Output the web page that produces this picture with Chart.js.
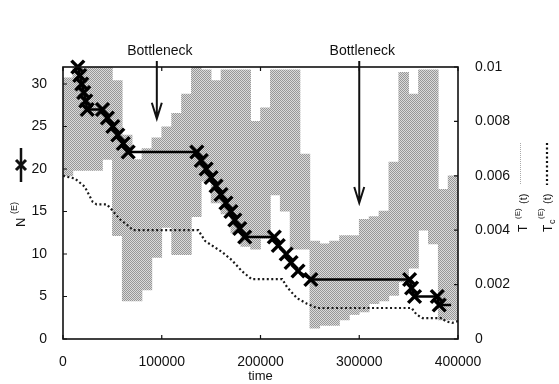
<!DOCTYPE html>
<html>
<head>
<meta charset="utf-8">
<script src="https://cdn.jsdelivr.net/npm/chart.js@4.4.0/dist/chart.umd.min.js"></script>
<style>
  html, body { margin: 0; padding: 0; background: #fff; }
  #wrap { width: 559px; height: 384px; }
</style>
</head>
<body>
<div id="wrap"><canvas id="chart" width="559" height="384"></canvas></div>
<script>
// N^(E)(t) - one point per marker (plateaus have a point at both ends)
const nTime  = [15000, 17000, 19000, 21000, 23000, 24500,
                40000, 45000, 50500, 55500, 61000, 66000,
                135500, 140000, 145000, 150000, 155000, 160000, 165000, 170000, 174000, 179000, 184000,
                214000, 218000, 226000, 231000, 238000, 251000,
                351000, 353000, 356000, 379000, 381000, 393000];
const nValue = [32, 31, 30, 29, 28, 27,
                27, 26, 25, 24, 23, 22,
                22, 21, 20, 19, 18, 17, 16, 15, 14, 13, 12,
                12, 11, 10, 9, 8, 7,
                7, 6, 5, 5, 4, 4];

// T_c^(E)(t) - dotted curve, right axis
const tcTime  = [0, 12000, 22000, 30000, 34000, 44500, 50600, 57700, 64800, 71000,
                 137000, 144000, 161000, 171000, 181000, 191000, 222000, 227000, 237000, 247000,
                 257000, 353000, 358000, 364000, 384000, 387000, 394000, 400000];
const tcValue = [0.0060, 0.0059, 0.0056, 0.00505, 0.00495, 0.00495, 0.0047, 0.0044, 0.0042, 0.0040,
                 0.0040, 0.0036, 0.0032, 0.0029, 0.0025, 0.0022, 0.0022, 0.0019, 0.0015, 0.0013,
                 0.00114, 0.00114, 0.0009, 0.00077, 0.00077, 0.00066, 0.00059, 0.00066];

// T^(E)(t) - fluctuating grey band, low/high per 10000-wide time bin
const binCenter = [5000, 15000, 25000, 35000, 45000, 55000, 65000, 75000, 85000, 95000,
                   105000, 115000, 125000, 135000, 145000, 155000, 165000, 175000, 185000, 195000,
                   205000, 215000, 225000, 235000, 245000, 255000, 265000, 275000, 285000, 295000,
                   305000, 315000, 325000, 335000, 345000, 355000, 365000, 375000, 385000, 395000];
const tLow  = [0.0060, 0.0062, 0.0062, 0.0062, 0.0066, 0.0038, 0.0014, 0.0014, 0.0018, 0.0030,
               0.0041, 0.0031, 0.0031, 0.0045, 0.0058, 0.0050, 0.0046, 0.0039, 0.0034, 0.0033,
               0.0037, 0.0053, 0.0047, 0.0033, 0.0033, 0.0004, 0.0005, 0.0005, 0.0007, 0.0009,
               0.0010, 0.0013, 0.0014, 0.0016, 0.0021, 0.0026, 0.0040, 0.0035, 0.0007, 0.0007];
const tHigh = [0.0096, 0.0100, 0.0100, 0.0100, 0.0100, 0.0095, 0.0075, 0.0066, 0.0070, 0.0074,
               0.0078, 0.0083, 0.0090, 0.0100, 0.0099, 0.0095, 0.0099, 0.0099, 0.0099, 0.0080,
               0.0085, 0.0099, 0.0099, 0.0099, 0.0068, 0.0036, 0.0035, 0.0036, 0.0038, 0.0038,
               0.0044, 0.0045, 0.0047, 0.0065, 0.0098, 0.0090, 0.0099, 0.0099, 0.0055, 0.0060];

const xTicks = [0, 100000, 200000, 300000, 400000];
const nTicks = [0, 5, 10, 15, 20, 25, 30];
const tTicks = [0, 0.002, 0.004, 0.006, 0.008, 0.01];
const tTickLabels = ['0', '0.002', '0.004', '0.006', '0.008', '0.01'];

// arrows: time position, tip value (right axis)
const bottleneckTime = [95000, 300000];
const bottleneckTip  = [0.0081, 0.0050];

const FONT = "'Liberation Sans', Arial, sans-serif";
const canvas = document.getElementById('chart');
const ctx0 = canvas.getContext('2d');

// grey halftone like the printed figure
function halftone() {
  const c = document.createElement('canvas');
  c.width = 2; c.height = 2;
  const g = c.getContext('2d');
  g.fillStyle = '#dadada'; g.fillRect(0, 0, 2, 2);
  g.fillStyle = '#979797'; g.fillRect(0, 0, 1, 1); g.fillRect(1, 1, 1, 1);
  return ctx0.createPattern(c, 'repeat');
}

function drawArrow(ctx, x, y0, y1) {
  ctx.beginPath();
  ctx.moveTo(x, y0); ctx.lineTo(x, y1);
  ctx.moveTo(x - 5, y1 - 16); ctx.lineTo(x, y1); ctx.lineTo(x + 5, y1 - 16);
  ctx.stroke();
}

const decor = {
  id: 'decor',
  afterDraw(chart) {
    const { ctx, chartArea: a, scales } = chart;
    const xs = scales.x, ys = scales.y, ts = scales.y2;
    ctx.save();
    ctx.strokeStyle = '#111';
    ctx.fillStyle = '#111';

    // frame
    ctx.lineWidth = 1.6;
    ctx.strokeRect(a.left, a.top, a.right - a.left, a.bottom - a.top);

    // inward ticks
    ctx.lineWidth = 1.2;
    ctx.beginPath();
    xTicks.forEach(v => {
      const px = xs.getPixelForValue(v);
      ctx.moveTo(px, a.bottom); ctx.lineTo(px, a.bottom - 4);
      ctx.moveTo(px, a.top); ctx.lineTo(px, a.top + 4);
    });
    nTicks.forEach(v => {
      const py = ys.getPixelForValue(v);
      ctx.moveTo(a.left, py); ctx.lineTo(a.left + 4, py);
    });
    tTicks.forEach(v => {
      const py = ts.getPixelForValue(v);
      ctx.moveTo(a.right, py); ctx.lineTo(a.right - 4, py);
    });
    ctx.stroke();

    // bottleneck annotations
    ctx.lineWidth = 2;
    ctx.font = '14px ' + FONT;
    ctx.textAlign = 'center';
    ctx.textBaseline = 'alphabetic';
    bottleneckTime.forEach((t, i) => {
      const px = xs.getPixelForValue(t);
      ctx.fillText('Bottleneck', px + 3, a.top - 12);
      drawArrow(ctx, px, a.top - 6, ts.getPixelForValue(bottleneckTip[i]));
    });

    // x title
    ctx.font = '13px ' + FONT;
    ctx.fillText('time', (a.left + a.right) / 2, 380);

    // left title: N^(E) with line+marker sample
    ctx.lineWidth = 2.5;
    ctx.beginPath(); ctx.moveTo(21, 148); ctx.lineTo(21, 182); ctx.stroke();
    ctx.lineWidth = 3;
    ctx.beginPath();
    ctx.moveTo(16, 160); ctx.lineTo(26, 170);
    ctx.moveTo(26, 160); ctx.lineTo(16, 170);
    ctx.stroke();
    ctx.textAlign = 'left';
    ctx.save();
    ctx.translate(25, 227); ctx.rotate(-Math.PI / 2);
    ctx.font = '13px ' + FONT; ctx.fillText('N', 0, 0);
    ctx.font = '9px ' + FONT; ctx.fillText('(E)', 13, -8);
    ctx.restore();

    // right legend: T^(E)(t) grey, T_c^(E)(t) dotted
    ctx.lineWidth = 1;
    ctx.strokeStyle = '#aaa';
    ctx.setLineDash([1, 1]);
    ctx.beginPath(); ctx.moveTo(520.5, 143); ctx.lineTo(520.5, 185); ctx.stroke();
    ctx.strokeStyle = '#111';
    ctx.lineWidth = 2.2;
    ctx.setLineDash([2, 2.5]);
    ctx.beginPath(); ctx.moveTo(547, 143); ctx.lineTo(547, 185); ctx.stroke();
    ctx.setLineDash([]);

    ctx.save();
    ctx.translate(527, 232); ctx.rotate(-Math.PI / 2);
    ctx.font = '12px ' + FONT; ctx.fillText('T', 0, 0);
    ctx.font = '8px ' + FONT; ctx.fillText('(E)', 13, -7);
    ctx.font = '11px ' + FONT; ctx.fillText('(t)', 28, 0);
    ctx.restore();

    ctx.save();
    ctx.translate(552, 232); ctx.rotate(-Math.PI / 2);
    ctx.font = '12px ' + FONT; ctx.fillText('T', 0, 0);
    ctx.font = '9px ' + FONT; ctx.fillText('c', 8, 3);
    ctx.font = '8px ' + FONT; ctx.fillText('(E)', 13, -9);
    ctx.font = '11px ' + FONT; ctx.fillText('(t)', 28, -1);
    ctx.restore();

    ctx.restore();
  }
};

new Chart(canvas, {
  type: 'bar',
  data: {
    datasets: [
      {
        type: 'line',
        label: 'N(E)',
        data: nTime.map((t, i) => ({ x: t, y: nValue[i] })),
        yAxisID: 'y',
        borderColor: '#000',
        borderWidth: 2.5,
        pointStyle: 'crossRot',
        pointRadius: ctx => (ctx.dataIndex === nTime.length - 1 ? 0 : 9),
        pointBorderWidth: 3.5,
        pointBorderColor: '#000',
        clip: false,
        order: 1
      },
      {
        type: 'line',
        label: 'Tc(E)',
        data: tcTime.map((t, i) => ({ x: t, y: tcValue[i] })),
        yAxisID: 'y2',
        borderColor: '#1a1a1a',
        borderWidth: 2.2,
        borderDash: [2, 2.5],
        pointRadius: 0,
        order: 2
      },
      {
        type: 'bar',
        label: 'T(E)',
        data: binCenter.map((t, i) => ({ x: t, y: [tLow[i], tHigh[i]] })),
        yAxisID: 'y2',
        backgroundColor: halftone(),
        borderWidth: 0,
        barPercentage: 1,
        categoryPercentage: 1,
        order: 3
      }
    ]
  },
  options: {
    responsive: false,
    animation: false,
    layout: { padding: { top: 67, left: 0, right: 0, bottom: 0 } },
    plugins: { legend: { display: false }, tooltip: { enabled: false } },
    scales: {
      x: {
        type: 'linear',
        offset: false,
        min: 0, max: 400000,
        grid: { display: false },
        border: { display: false },
        afterBuildTicks: s => { s.ticks = xTicks.map(v => ({ value: v })); },
        afterFit: s => { s.height = 45; },
        ticks: { color: '#111', padding: 7, maxRotation: 0, font: { family: FONT, size: 14 },
                 callback: v => String(v) }
      },
      y: {
        position: 'left',
        min: 0, max: 32,
        grid: { display: false },
        border: { display: false },
        afterBuildTicks: s => { s.ticks = nTicks.map(v => ({ value: v })); },
        afterFit: s => { s.width = 63; },
        ticks: { color: '#111', padding: 8, font: { family: FONT, size: 14 } }
      },
      y2: {
        position: 'right',
        min: 0, max: 0.01,
        grid: { display: false },
        border: { display: false },
        afterBuildTicks: s => { s.ticks = tTicks.map(v => ({ value: v })); },
        afterFit: s => { s.width = 101; },
        ticks: { color: '#111', padding: 9, font: { family: FONT, size: 14 },
                 callback: (v, i) => tTickLabels[i] }
      }
    }
  },
  plugins: [decor]
});
</script>
</body>
</html>
